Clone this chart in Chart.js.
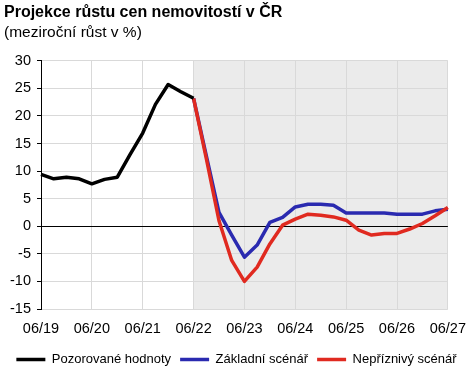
<!DOCTYPE html>
<html>
<head>
<meta charset="utf-8">
<script src="https://cdn.jsdelivr.net/npm/chart.js@4/dist/chart.umd.min.js"></script>
<style>
  html, body { margin: 0; padding: 0; background: #ffffff; }
  #wrap { width: 469px; height: 372px; }
</style>
</head>
<body>
<div id="wrap"><canvas id="c" width="469" height="372"></canvas></div>
<script>
const quarters = ["06/19","09/19","12/19","03/20","06/20","09/20","12/20","03/21","06/21","09/21","12/21","03/22","06/22",
  "09/22","12/22","03/23","06/23","09/23","12/23","03/24","06/24","09/24","12/24","03/25","06/25","09/25","12/25","03/26","06/26","09/26","12/26","03/27","06/27"];
const observed = [9.4, 8.6, 8.9, 8.6, 7.7, 8.5, 8.9, 13.0, 16.9, 22.1, 25.7, 24.4, 23.2];
const baseline = [23.2, 12.8, 2.5, -1.6, -5.6, -3.4, 0.7, 1.6, 3.5, 4.0, 4.0, 3.8, 2.4, 2.4, 2.4, 2.4, 2.2, 2.2, 2.2, 2.8, 3.1];
const adverse  = [23.2, 12.3, 1.0, -6.2, -10.0, -7.4, -3.2, 0.2, 1.3, 2.2, 2.0, 1.7, 1.1, -0.7, -1.6, -1.3, -1.3, -0.5, 0.5, 1.9, 3.4];
const yTicks = [-15, -10, -5, 0, 5, 10, 15, 20, 25, 30];
const projectionStart = "06/22";
const seriesNames = ["Pozorované hodnoty", "Základní scénář", "Nepříznivý scénář"];

const startIdx = quarters.indexOf(projectionStart);
const pad = (arr, before) => {
  const out = new Array(quarters.length).fill(null);
  arr.forEach((v, i) => { out[before + i] = v; });
  return out;
};

const shade = {
  id: 'shade',
  beforeDraw(chart) {
    const { ctx, chartArea, scales } = chart;
    const x0 = scales.x.getPixelForValue(startIdx);
    ctx.save();
    ctx.fillStyle = '#ebebeb';
    ctx.fillRect(x0, chartArea.top, chartArea.right - x0, chartArea.bottom - chartArea.top);
    ctx.restore();
  }
};

const FONT = "'Liberation Sans', Arial, sans-serif";

new Chart(document.getElementById('c'), {
  type: 'line',
  data: {
    labels: quarters,
    datasets: [
      { label: seriesNames[0], data: pad(observed, 0), borderColor: '#000000', backgroundColor: '#000000', borderWidth: 3.5, order: 0 },
      { label: seriesNames[1], data: pad(baseline, startIdx), borderColor: '#2a2ab0', backgroundColor: '#2a2ab0', borderWidth: 3.5, order: 2 },
      { label: seriesNames[2], data: pad(adverse, startIdx), borderColor: '#e02a20', backgroundColor: '#e02a20', borderWidth: 3.5, order: 1 }
    ]
  },
  options: {
    responsive: false,
    animation: false,
    devicePixelRatio: 1,
    layout: { padding: { left: 4, right: 0, top: 0, bottom: -4 } },
    elements: {
      point: { radius: 0 },
      line: { tension: 0, borderJoinStyle: 'round', borderCapStyle: 'butt' }
    },
    plugins: {
      tooltip: { enabled: false },
      title: {
        display: true, text: 'Projekce růstu cen nemovitostí v ČR', align: 'start',
        color: '#000', font: { family: FONT, size: 16, weight: 'bold', lineHeight: 1.2 },
        padding: { top: 3, bottom: 1 }
      },
      subtitle: {
        display: true, text: '(meziroční růst v %)', align: 'start',
        color: '#000', font: { family: FONT, size: 15.5, lineHeight: 1.2 },
        padding: { top: 0, bottom: 19 }
      },
      legend: {
        position: 'bottom',
        labels: {
          usePointStyle: true, pointStyle: 'line', pointStyleWidth: 29,
          boxHeight: 13, padding: 9, color: '#000',
          font: { family: FONT, size: 13 },
          sort: (a, b) => a.datasetIndex - b.datasetIndex
        }
      }
    },
    scales: {
      x: {
        type: 'category',
        offset: false,
        border: { display: false },
        grid: { color: '#d9d9d9', lineWidth: 1, drawTicks: true, tickLength: 8, tickColor: 'rgba(0,0,0,0)' },
        ticks: {
          autoSkip: false, maxRotation: 0, minRotation: 0, padding: 3, color: '#000',
          font: { family: FONT, size: 14.5 },
          callback: (v, i) => quarters[i].startsWith('06/') ? quarters[i] : null
        },
        afterFit: s => { s.height = 35; }
      },
      y: {
        min: -15, max: 30,
        border: { display: true, color: '#000', width: 1 },
        grid: {
          color: ctx => (ctx.tick && ctx.tick.value === 0) ? '#000000' : '#d9d9d9',
          tickColor: '#000', tickLength: 4, lineWidth: 1
        },
        afterBuildTicks: s => { s.ticks = yTicks.map(v => ({ value: v })); },
        ticks: { padding: 6, color: '#000', font: { family: FONT, size: 14.5 } },
        afterFit: s => { s.width = 37; }
      }
    }
  },
  plugins: [shade]
});
</script>
</body>
</html>
